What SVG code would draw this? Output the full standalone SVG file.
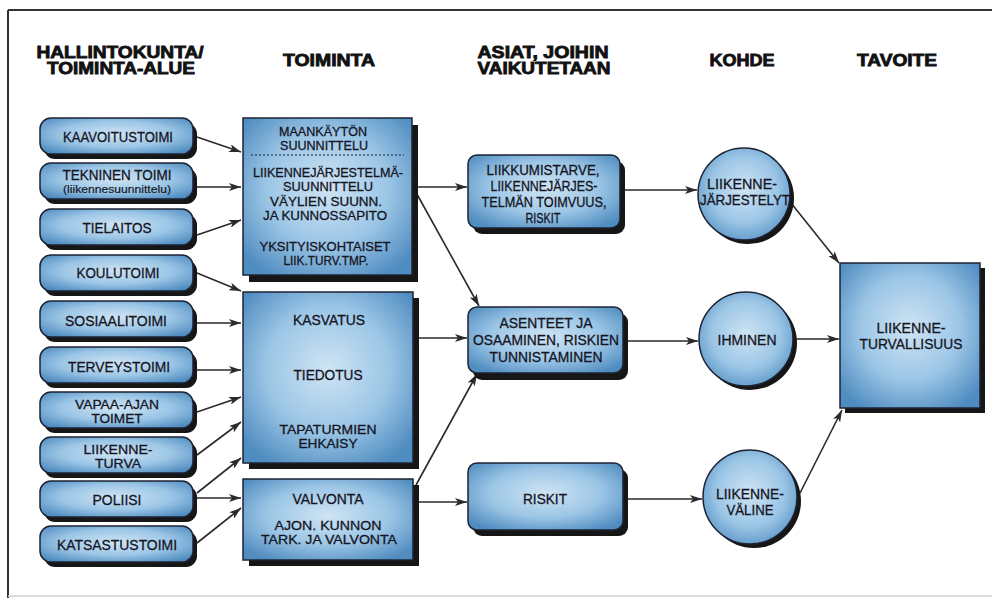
<svg xmlns="http://www.w3.org/2000/svg" width="992" height="598" viewBox="0 0 992 598">
<style>
.sh{fill:#161616}
.nd{fill:url(#g);stroke:#1c2333;stroke-width:1.5}
.ci{fill:url(#gc);stroke:#1c2333;stroke-width:1.5}
.t{font-family:"Liberation Sans",Arial,sans-serif;font-size:14px;fill:#15151f;stroke:#15151f;stroke-width:0.3;text-anchor:middle}
.tp{font-size:15px}
.tm{font-size:13px}
.ts{font-size:10px;stroke-width:0.15}
.h{font-family:"Liberation Sans",Arial,sans-serif;font-weight:bold;font-size:16px;fill:#111;stroke:#111;stroke-width:0.8;text-anchor:middle}
.c{stroke:#2a2a2a;stroke-width:1.6;fill:none;marker-end:url(#a)}
</style>
<defs>
<radialGradient id="g" cx="50%" cy="45%" r="65%">
<stop offset="0" stop-color="#cfe4f4"/>
<stop offset="0.55" stop-color="#9cc6e6"/>
<stop offset="1" stop-color="#4f8cc0"/>
</radialGradient>
<radialGradient id="gc" cx="50%" cy="45%" r="60%">
<stop offset="0" stop-color="#cfe4f4"/>
<stop offset="0.6" stop-color="#9cc6e6"/>
<stop offset="1" stop-color="#5a95c6"/>
</radialGradient>
<marker id="a" viewBox="0 0 12 8" refX="12" refY="4" markerWidth="12" markerHeight="8" markerUnits="userSpaceOnUse" orient="auto">
<path d="M0,0 L12,4 L0,8 L3,4 Z" fill="#2a2a2a"/>
</marker>
</defs>
<rect width="992" height="598" fill="#ffffff"/>
<g id="frame">
<line x1="8" y1="10" x2="992" y2="10" stroke="#333" stroke-width="2"/>
<line x1="8" y1="10" x2="8" y2="598" stroke="#333" stroke-width="2"/>
<line x1="8" y1="596" x2="992" y2="596" stroke="#cfcfcf" stroke-width="1.5"/>
</g>
<g id="headers">
<text class="h" x="120" y="58" textLength="167" lengthAdjust="spacingAndGlyphs">HALLINTOKUNTA/</text>
<text class="h" x="121" y="74" textLength="148" lengthAdjust="spacingAndGlyphs">TOIMINTA-ALUE</text>
<text class="h" x="329" y="66" textLength="92" lengthAdjust="spacingAndGlyphs">TOIMINTA</text>
<text class="h" x="543" y="58" textLength="131" lengthAdjust="spacingAndGlyphs">ASIAT, JOIHIN</text>
<text class="h" x="544" y="74" textLength="133" lengthAdjust="spacingAndGlyphs">VAIKUTETAAN</text>
<text class="h" x="742" y="66" textLength="65" lengthAdjust="spacingAndGlyphs">KOHDE</text>
<text class="h" x="897" y="66" textLength="80" lengthAdjust="spacingAndGlyphs">TAVOITE</text>
</g>
<g id="connectors">
<path class="c" d="M197,137 L241,152"/>
<path class="c" d="M197,187 L241,187"/>
<path class="c" d="M197,235 L241,220"/>
<path class="c" d="M197,273 L241,291"/>
<path class="c" d="M197,323 L241,323"/>
<path class="c" d="M197,370 L241,370"/>
<path class="c" d="M197,412 L241,397"/>
<path class="c" d="M197,455 L241,422"/>
<path class="c" d="M197,493 L241,458"/>
<path class="c" d="M197,498 L241,498"/>
<path class="c" d="M197,543 L241,508"/>
<path class="c" d="M413,187 L467,187"/>
<path class="c" d="M413,187 L479,306"/>
<path class="c" d="M413,338 L467,338"/>
<path class="c" d="M416,485 L477,374"/>
<path class="c" d="M413,502 L467,502"/>
<path class="c" d="M624,190 L697,190"/>
<path class="c" d="M628,341 L698,341"/>
<path class="c" d="M628,499 L702,499"/>
<path class="c" d="M791,203 L839,263"/>
<path class="c" d="M795,339 L839,339"/>
<path class="c" d="M800,493 L842,410"/>
</g>
<g id="n-kaavoitustoimi">
<rect class="sh" x="44" y="123" width="153" height="36" rx="11"/>
<rect class="nd" x="40" y="118" width="153" height="36" rx="11"/>
<text class="t tp" x="118" y="142" textLength="110" lengthAdjust="spacingAndGlyphs">KAAVOITUSTOIMI</text>
</g>
<g id="n-tekninen">
<rect class="sh" x="44" y="168" width="153" height="36" rx="11"/>
<rect class="nd" x="40" y="163" width="153" height="36" rx="11"/>
<text class="t tp" x="117" y="180" textLength="109" lengthAdjust="spacingAndGlyphs">TEKNINEN TOIMI</text>
<text class="t ts" x="117" y="193" textLength="108" lengthAdjust="spacingAndGlyphs">(liikennesuunnittelu)</text>
</g>
<g id="n-tielaitos">
<rect class="sh" x="44" y="214" width="153" height="36" rx="11"/>
<rect class="nd" x="40" y="209" width="153" height="36" rx="11"/>
<text class="t tp" x="117" y="233" textLength="69" lengthAdjust="spacingAndGlyphs">TIELAITOS</text>
</g>
<g id="n-koulutoimi">
<rect class="sh" x="44" y="260" width="153" height="36" rx="11"/>
<rect class="nd" x="40" y="255" width="153" height="36" rx="11"/>
<text class="t tp" x="118" y="278" textLength="83" lengthAdjust="spacingAndGlyphs">KOULUTOIMI</text>
</g>
<g id="n-sosiaalitoimi">
<rect class="sh" x="44" y="306" width="153" height="36" rx="11"/>
<rect class="nd" x="40" y="301" width="153" height="36" rx="11"/>
<text class="t tp" x="116" y="326" textLength="102" lengthAdjust="spacingAndGlyphs">SOSIAALITOIMI</text>
</g>
<g id="n-terveystoimi">
<rect class="sh" x="44" y="352" width="153" height="36" rx="11"/>
<rect class="nd" x="40" y="347" width="153" height="36" rx="11"/>
<text class="t tp" x="119" y="372" textLength="102" lengthAdjust="spacingAndGlyphs">TERVEYSTOIMI</text>
</g>
<g id="n-vapaa-ajan">
<rect class="sh" x="44" y="397" width="153" height="36" rx="11"/>
<rect class="nd" x="40" y="392" width="153" height="36" rx="11"/>
<text class="t tm" x="117" y="409" textLength="84" lengthAdjust="spacingAndGlyphs">VAPAA-AJAN</text>
<text class="t tm" x="117" y="423" textLength="51" lengthAdjust="spacingAndGlyphs">TOIMET</text>
</g>
<g id="n-liikenneturva">
<rect class="sh" x="44" y="442" width="153" height="36" rx="11"/>
<rect class="nd" x="40" y="437" width="153" height="36" rx="11"/>
<text class="t tm" x="118" y="454" textLength="69" lengthAdjust="spacingAndGlyphs">LIIKENNE-</text>
<text class="t tm" x="118" y="468" textLength="46" lengthAdjust="spacingAndGlyphs">TURVA</text>
</g>
<g id="n-poliisi">
<rect class="sh" x="44" y="486" width="153" height="36" rx="11"/>
<rect class="nd" x="40" y="481" width="153" height="36" rx="11"/>
<text class="t tp" x="117" y="505" textLength="49" lengthAdjust="spacingAndGlyphs">POLIISI</text>
</g>
<g id="n-katsastustoimi">
<rect class="sh" x="44" y="531" width="153" height="36" rx="11"/>
<rect class="nd" x="40" y="526" width="153" height="36" rx="11"/>
<text class="t tp" x="117" y="550" textLength="120" lengthAdjust="spacingAndGlyphs">KATSASTUSTOIMI</text>
</g>
<g id="n-suunnittelu">
<rect class="sh" x="249" y="125" width="169" height="157"/>
<rect class="nd" x="243" y="118" width="169" height="157"/>
<text class="t tm" x="323" y="136" textLength="88" lengthAdjust="spacingAndGlyphs">MAANKÄYTÖN</text>
<text class="t tm" x="324" y="150" textLength="88" lengthAdjust="spacingAndGlyphs">SUUNNITTELU</text>
<line x1="251" y1="155" x2="404" y2="155" stroke="#1c2333" stroke-width="1.2" stroke-dasharray="2,2"/>
<text class="t tm" x="328" y="177" textLength="150" lengthAdjust="spacingAndGlyphs">LIIKENNEJÄRJESTELMÄ-</text>
<text class="t tm" x="328" y="191" textLength="90" lengthAdjust="spacingAndGlyphs">SUUNNITTELU</text>
<text class="t tm" x="326" y="206" textLength="112" lengthAdjust="spacingAndGlyphs">VÄYLIEN SUUNN.</text>
<text class="t tm" x="325" y="220" textLength="124" lengthAdjust="spacingAndGlyphs">JA KUNNOSSAPITO</text>
<text class="t tm" x="325" y="251" textLength="131" lengthAdjust="spacingAndGlyphs">YKSITYISKOHTAISET</text>
<text class="t tm" x="326" y="265" textLength="85" lengthAdjust="spacingAndGlyphs">LIIK.TURV.TMP.</text>
</g>
<g id="n-kasvatus">
<rect class="sh" x="249" y="298" width="170" height="171"/>
<rect class="nd" x="243" y="292" width="170" height="171"/>
<text class="t" x="329" y="325" textLength="72" lengthAdjust="spacingAndGlyphs">KASVATUS</text>
<text class="t" x="328" y="380" textLength="69" lengthAdjust="spacingAndGlyphs">TIEDOTUS</text>
<text class="t tm" x="328" y="434" textLength="97" lengthAdjust="spacingAndGlyphs">TAPATURMIEN</text>
<text class="t tm" x="328" y="448" textLength="59" lengthAdjust="spacingAndGlyphs">EHKAISY</text>
</g>
<g id="n-valvonta">
<rect class="sh" x="249" y="485" width="170" height="81"/>
<rect class="nd" x="243" y="479" width="170" height="81"/>
<text class="t" x="328" y="504" textLength="71" lengthAdjust="spacingAndGlyphs">VALVONTA</text>
<text class="t tm" x="328" y="530" textLength="107" lengthAdjust="spacingAndGlyphs">AJON. KUNNON</text>
<text class="t tm" x="329" y="544" textLength="136" lengthAdjust="spacingAndGlyphs">TARK. JA VALVONTA</text>
</g>
<g id="n-liikkumistarve">
<rect class="sh" x="473" y="161" width="152" height="73" rx="9"/>
<rect class="nd" x="468" y="155" width="152" height="73" rx="9"/>
<text class="t" x="543" y="175" textLength="113" lengthAdjust="spacingAndGlyphs">LIIKKUMISTARVE,</text>
<text class="t" x="544" y="191" textLength="107" lengthAdjust="spacingAndGlyphs">LIIKENNEJÄRJES-</text>
<text class="t" x="544" y="207" textLength="125" lengthAdjust="spacingAndGlyphs">TELMÄN TOIMVUUS,</text>
<text class="t" x="543" y="223" textLength="35" lengthAdjust="spacingAndGlyphs">RISKIT</text>
</g>
<g id="n-asenteet">
<rect class="sh" x="473" y="313" width="155" height="67" rx="9"/>
<rect class="nd" x="468" y="307" width="155" height="66" rx="9"/>
<text class="t" x="546" y="328" textLength="93" lengthAdjust="spacingAndGlyphs">ASENTEET JA</text>
<text class="t" x="546" y="345" textLength="146" lengthAdjust="spacingAndGlyphs">OSAAMINEN, RISKIEN</text>
<text class="t" x="546" y="362" textLength="113" lengthAdjust="spacingAndGlyphs">TUNNISTAMINEN</text>
</g>
<g id="n-riskit">
<rect class="sh" x="473" y="469" width="155" height="67" rx="9"/>
<rect class="nd" x="468" y="463" width="155" height="67" rx="9"/>
<text class="t" x="545" y="504" textLength="44" lengthAdjust="spacingAndGlyphs">RISKIT</text>
</g>
<g id="n-liikennejarjestelyt">
<circle class="sh" cx="748" cy="198" r="46"/>
<circle class="ci" cx="744" cy="194" r="46"/>
<text class="t" x="742" y="189" textLength="70" lengthAdjust="spacingAndGlyphs">LIIKENNE-</text>
<text class="t" x="745" y="205" textLength="90" lengthAdjust="spacingAndGlyphs">JÄRJESTELYT</text>
</g>
<g id="n-ihminen">
<circle class="sh" cx="750" cy="343" r="47"/>
<circle class="ci" cx="746" cy="339" r="47"/>
<text class="t" x="747" y="345" textLength="59" lengthAdjust="spacingAndGlyphs">IHMINEN</text>
</g>
<g id="n-liikennevaline">
<circle class="sh" cx="754" cy="501" r="47"/>
<circle class="ci" cx="750" cy="497" r="47"/>
<text class="t" x="750" y="499" textLength="68" lengthAdjust="spacingAndGlyphs">LIIKENNE-</text>
<text class="t" x="750" y="515" textLength="47" lengthAdjust="spacingAndGlyphs">VÄLINE</text>
</g>
<g id="n-liikenneturvallisuus">
<rect class="sh" x="845" y="268" width="140" height="145"/>
<rect class="nd" x="840" y="263" width="140" height="145"/>
<text class="t" x="911" y="333" textLength="69" lengthAdjust="spacingAndGlyphs">LIIKENNE-</text>
<text class="t" x="911" y="349" textLength="103" lengthAdjust="spacingAndGlyphs">TURVALLISUUS</text>
</g>
</svg>
